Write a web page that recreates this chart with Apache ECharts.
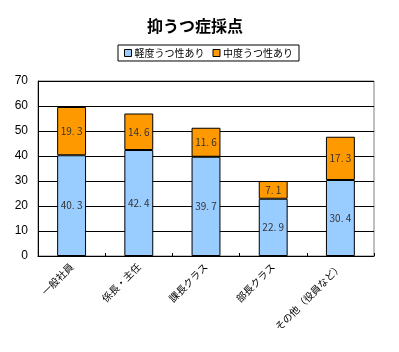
<!DOCTYPE html>
<html>
<head>
<meta charset="utf-8">
<script src="https://cdn.jsdelivr.net/npm/echarts@6/dist/echarts.min.js"></script>
<style>
  html, body { margin: 0; padding: 0; background: #fff; }
  #chart { width: 399px; height: 352px; }
</style>
</head>
<body>
<div id="chart"></div>
<script>
// カテゴリ
const categories = ['一般社員', '係長・主任', '課長クラス', '部長クラス', 'その他（役員など）'];
// 軽度うつ性あり
const mildValues = [40.3, 42.4, 39.7, 22.9, 30.4];
// 中度うつ性あり
const moderateValues = [19.3, 14.6, 11.6, 7.1, 17.3];
const seriesNames = ['軽度うつ性あり', '中度うつ性あり'];

const jpFont = '"Noto Sans CJK JP", sans-serif';

// 値ラベルは「40. 3」のような書式
const fmtLabel = (p) => p.value.toFixed(1).replace('.', '. ');

const chart = echarts.init(document.getElementById('chart'));

chart.setOption({
  animation: false,
  backgroundColor: '#fff',
  textStyle: { fontFamily: jpFont },
  title: {
    text: '抑うつ症採点',
    left: 142,
    top: 13,
    textStyle: { fontSize: 16, fontWeight: 'bold', color: '#000', fontFamily: jpFont }
  },
  legend: {
    data: seriesNames,
    top: 45,
    left: 118,
    itemWidth: 7,
    itemHeight: 7,
    itemGap: 8,
    padding: [3, 6],
    borderColor: '#000',
    borderWidth: 1,
    icon: 'rect',
    itemStyle: { borderColor: '#000', borderWidth: 1 },
    textStyle: { fontSize: 10, color: '#000', padding: [0, 0, 0, -2] }
  },
  grid: { left: 38, right: 25, top: 81, bottom: 96, show: true, borderColor: '#808080', borderWidth: 1 },
  xAxis: {
    type: 'category',
    data: categories,
    boundaryGap: true,
    axisLine: { lineStyle: { color: '#000', width: 1 } },
    axisTick: { show: true, inside: true, length: 3, lineStyle: { color: '#000' } },
    axisLabel: { rotate: 45, fontSize: 10, color: '#000', margin: 9, interval: 0 }
  },
  yAxis: {
    type: 'value',
    min: 0,
    max: 70,
    interval: 10,
    axisLine: { show: true, lineStyle: { color: '#000', width: 1 } },
    axisTick: { show: false },
    axisLabel: { fontSize: 12, color: '#000', margin: 10, fontFamily: 'Liberation Sans, Arial, sans-serif' },
    splitLine: { lineStyle: { color: '#000', width: 1 } }
  },
  series: [
    {
      name: seriesNames[0],
      type: 'bar',
      stack: 'total',
      data: mildValues,
      barWidth: '43%',
      itemStyle: { color: '#99CCFF', borderColor: '#000', borderWidth: 1 },
      label: { show: true, position: 'inside', fontSize: 10, color: '#333', formatter: fmtLabel }
    },
    {
      name: seriesNames[1],
      type: 'bar',
      stack: 'total',
      data: moderateValues,
      barWidth: '43%',
      itemStyle: { color: '#FF9900', borderColor: '#000', borderWidth: 1 },
      label: { show: true, position: 'inside', fontSize: 10, color: '#333', formatter: fmtLabel }
    }
  ],
  graphic: [
    {
      type: 'text',
      left: 197,
      top: 181,
      style: { text: 'bbb', fontSize: 12, fill: '#000', fontFamily: 'Liberation Sans, Arial, sans-serif' }
    }
  ]
});
</script>
</body>
</html>
